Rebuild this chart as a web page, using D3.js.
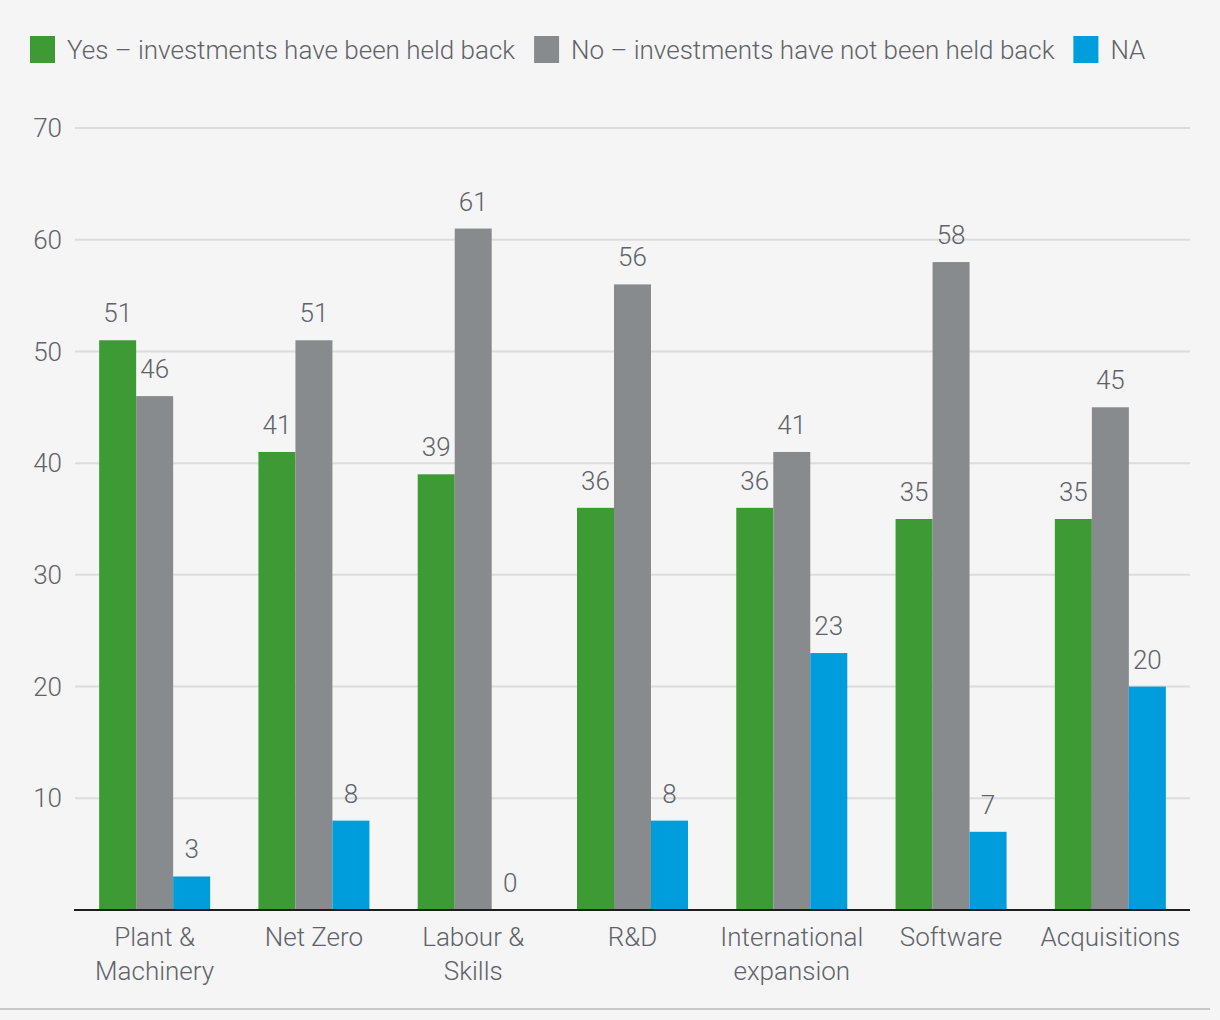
<!DOCTYPE html>
<html><head><meta charset="utf-8">
<script src="https://cdn.jsdelivr.net/npm/d3@7"></script>
<style>
html,body{margin:0;padding:0;background:#f5f5f5;}
svg{display:block;}
text{font-family:Roboto, "Open Sans", sans-serif;font-weight:300;fill:#5f6369;}
</style></head>
<body>
<svg id="c" width="1220" height="1020"></svg>
<script>
const categories = [["Plant &","Machinery"],["Net Zero"],["Labour &","Skills"],["R&D"],["International","expansion"],["Software"],["Acquisitions"]];
const seriesNames = ["Yes – investments have been held back","No – investments have not been held back","NA"];
const yesValues = [51,41,39,36,36,35,35];
const noValues = [46,51,61,56,41,58,45];
const naValues = [3,8,0,8,23,7,20];
const colors = ["#3d9a35","#888b8d","#009ddc"];
const yTicks = [10,20,30,40,50,60,70];

(function(){
const svg = d3.select("#c");
const W=1220,H=1020, FS=26;
svg.append("rect").attr("width",W).attr("height",H).attr("fill","#f5f5f5");
const pLeft=75,pRight=1190,pTop=128,pBottom=910;
const x = d3.scaleBand().domain(categories.map((d,i)=>i)).range([pLeft,pRight]).paddingInner(0).paddingOuter(0);
const y = d3.scaleLinear().domain([0,70]).range([pBottom,pTop]);
const barW = 37;

svg.append("g").selectAll("line").data(yTicks).join("line")
  .attr("x1",pLeft).attr("x2",pRight).attr("y1",d=>y(d)).attr("y2",d=>y(d))
  .attr("stroke","#dcdcdc").attr("stroke-width",2);
svg.append("g").selectAll("text").data(yTicks).join("text")
  .attr("x",62).attr("y",d=>y(d)).attr("dy","0.35em").attr("text-anchor","end")
  .attr("font-size",FS).text(d=>d);

const series = [yesValues,noValues,naValues];
series.forEach((vals,s)=>{
  const g = svg.append("g");
  g.selectAll("rect").data(vals).join("rect")
    .attr("x",(d,i)=>x(i)+x.bandwidth()/2-1.5*barW+s*barW)
    .attr("y",d=>y(d)).attr("width",barW).attr("height",d=>pBottom-y(d))
    .attr("fill",colors[s]);
  g.selectAll("text").data(vals).join("text")
    .attr("x",(d,i)=>x(i)+x.bandwidth()/2-1.5*barW+s*barW+barW/2)
    .attr("y",d=>y(d)-18).attr("text-anchor","middle").attr("font-size",FS).text(d=>d);
});

svg.append("line").attr("x1",pLeft-1).attr("x2",pRight).attr("y1",pBottom).attr("y2",pBottom)
  .attr("stroke","#1e1e1e").attr("stroke-width",2);

const cl = svg.append("g").selectAll("text").data(categories).join("text")
  .attr("text-anchor","middle").attr("font-size",FS)
  .attr("transform",(d,i)=>`translate(${x(i)+x.bandwidth()/2},946)`);
cl.selectAll("tspan").data(d=>d).join("tspan").attr("x",0).attr("dy",(d,j)=>j?34:0).text(d=>d);

svg.append("line").attr("x1",0).attr("x2",1210).attr("y1",1009).attr("y2",1009).attr("stroke","#c8c8c8").attr("stroke-width",2);

let lx = 30;
seriesNames.forEach((n,i)=>{
  svg.append("rect").attr("x",lx).attr("y",36).attr("width",25).attr("height",27).attr("fill",colors[i]);
  const t = svg.append("text").attr("x",lx+37).attr("y",50).attr("dy","0.35em").attr("font-size",FS).text(n);
  lx += 37 + t.node().getComputedTextLength() + 19;
});
})();
</script>
</body></html>
